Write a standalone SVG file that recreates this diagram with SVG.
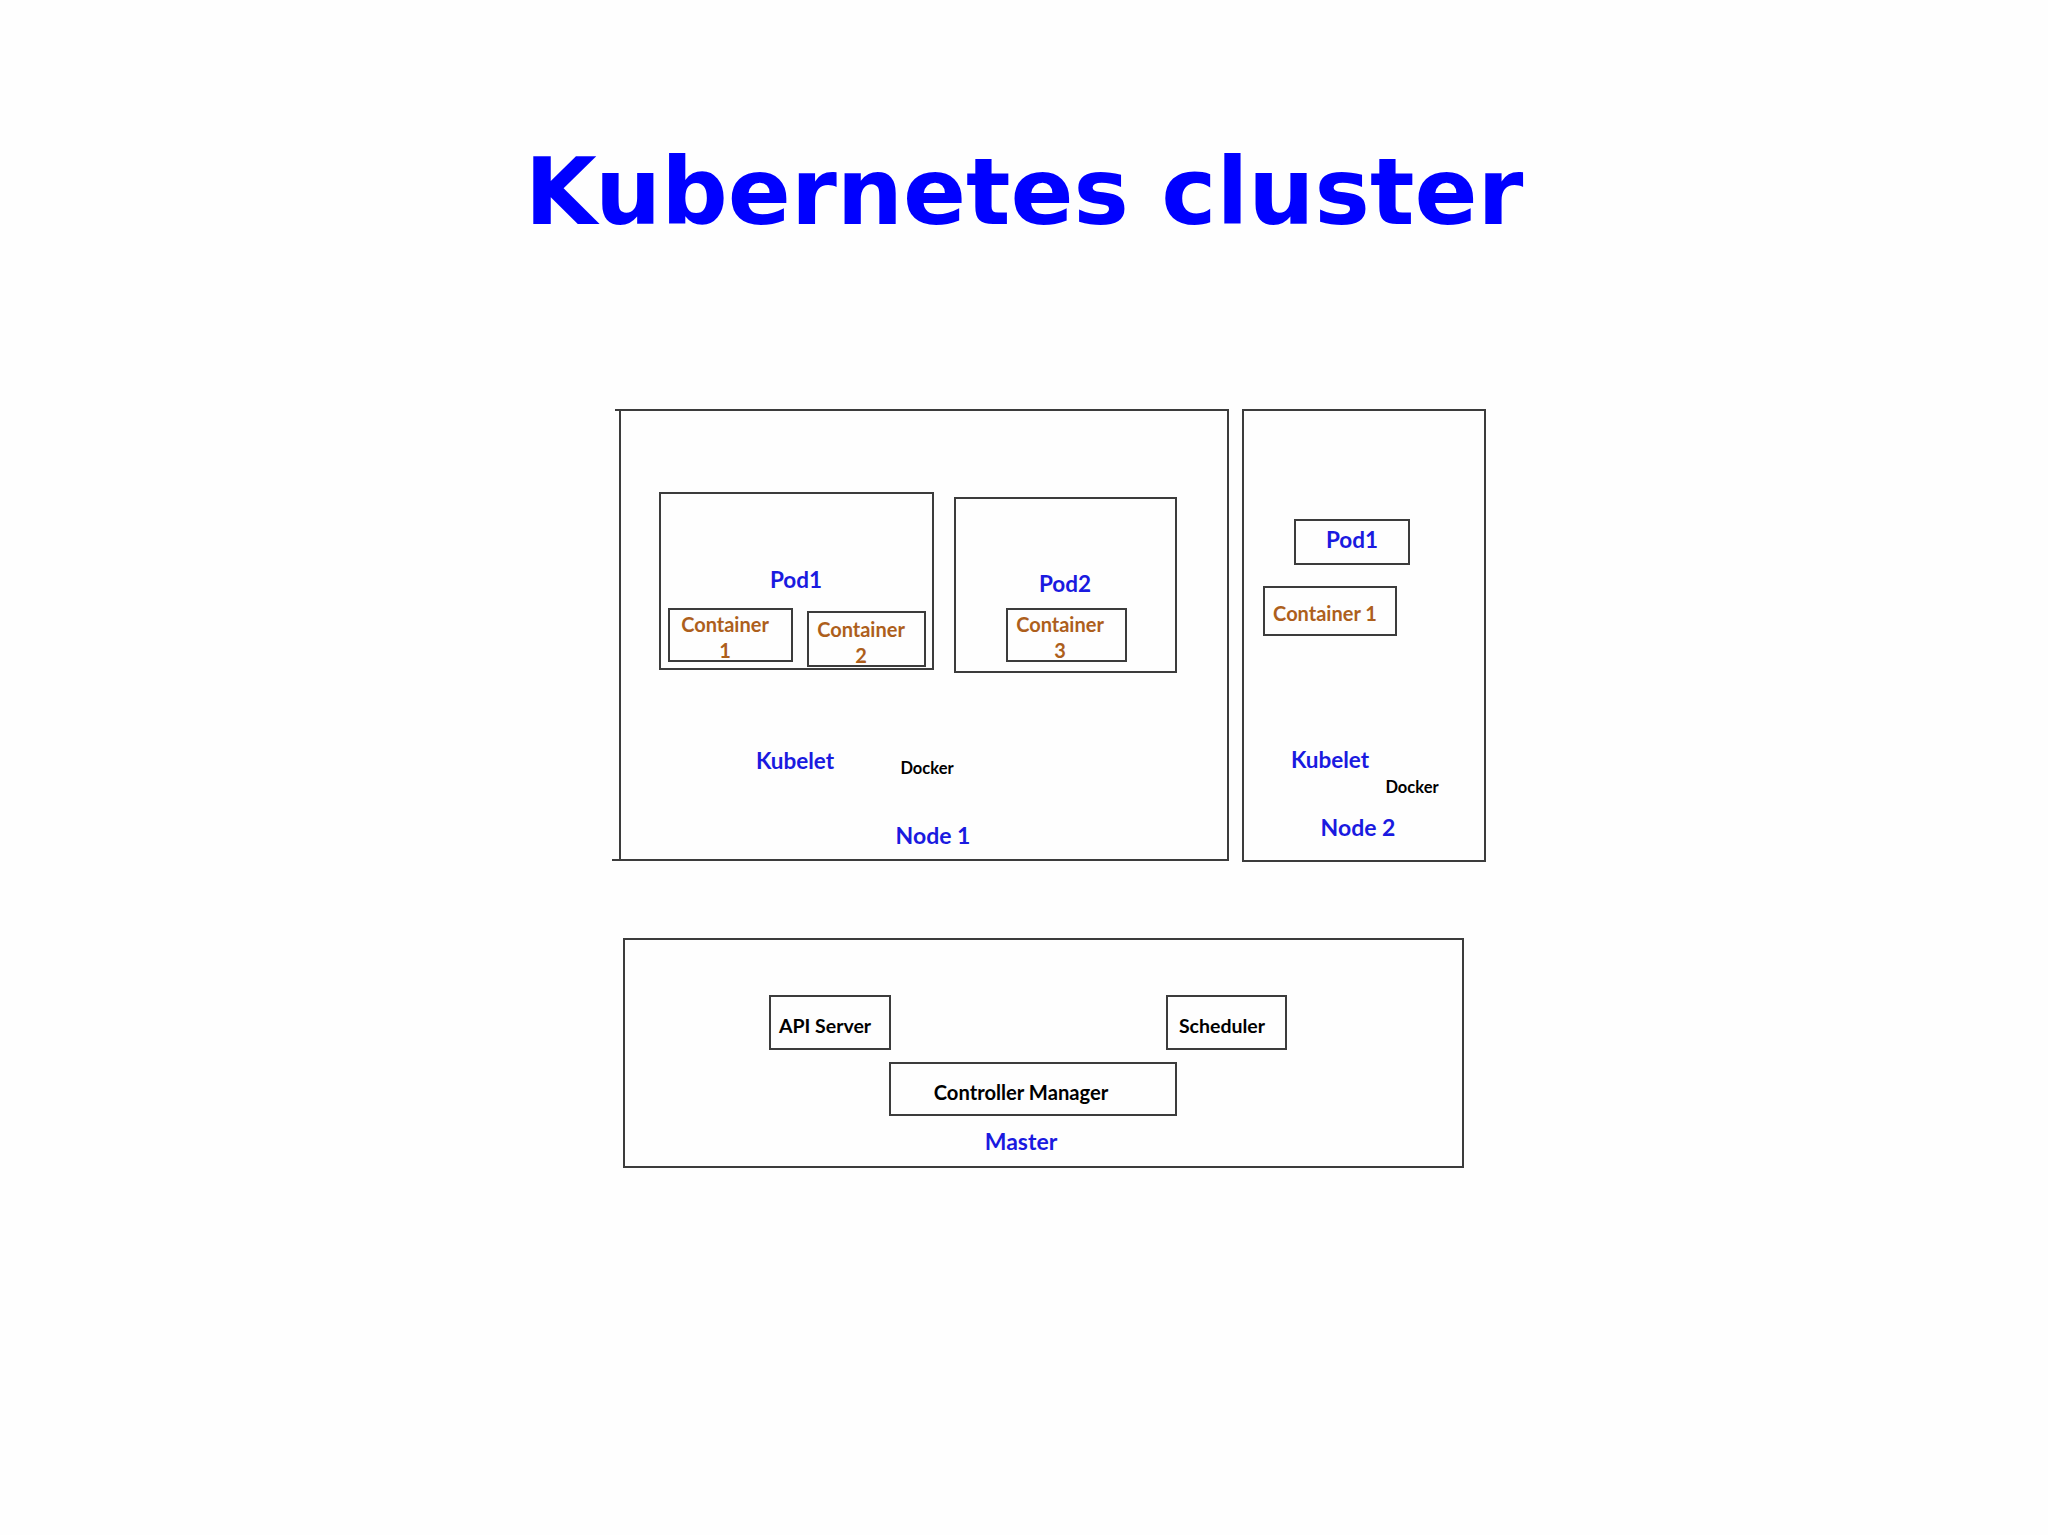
<svg xmlns="http://www.w3.org/2000/svg" width="2048" height="1535" viewBox="0 0 2048 1535">
<style>
.box{fill:none;stroke:#3c3c3c;stroke-width:2}
.edge{stroke:#3c3c3c;stroke-width:2;fill:none}
.t{font-family:Lato,"Open Sans","Liberation Sans",sans-serif;font-weight:bold;text-anchor:middle}
.blue{fill:#1a1ae0}
.cont{fill:#ad5f1c;font-size:20px}
.blk{fill:#000}
</style>
<rect width="2048" height="1535" fill="#fefefe"/>
<text x="1024" y="224" font-family="DejaVu Sans,sans-serif" font-weight="bold" font-size="93" fill="#0000ff" text-anchor="middle">Kubernetes cluster</text>

<g id="node1">
<path class="edge" d="M615 410 H1228 V860 H612 M620 410 V860"/>
<text class="t blue" x="933" y="844" font-size="23">Node 1</text>
<text class="t blue" x="795" y="769" font-size="22.5">Kubelet</text>
<text class="t blk" x="927" y="774" font-size="16.5">Docker</text>
</g>
<g id="n1-pod1">
<rect class="box" x="660" y="493" width="273" height="176"/>
<text class="t blue" x="796" y="588" font-size="22.5">Pod1</text>
</g>
<g id="n1-container1">
<rect class="box" x="669" y="609" width="123" height="52"/>
<text class="t cont" x="725" y="632">Container</text>
<text class="t cont" x="725" y="658">1</text>
</g>
<g id="n1-container2">
<rect class="box" x="808" y="612" width="117" height="54"/>
<text class="t cont" x="861" y="637">Container</text>
<text class="t cont" x="861" y="663">2</text>
</g>
<g id="n1-pod2">
<rect class="box" x="955" y="498" width="221" height="174"/>
<text class="t blue" x="1065" y="592" font-size="22.5">Pod2</text>
</g>
<g id="n1-container3">
<rect class="box" x="1007" y="609" width="119" height="52"/>
<text class="t cont" x="1060" y="632">Container</text>
<text class="t cont" x="1060" y="658">3</text>
</g>

<g id="node2">
<rect class="box" x="1243" y="410" width="242" height="451"/>
<text class="t blue" x="1358" y="836" font-size="23">Node 2</text>
<text class="t blue" x="1330" y="768" font-size="22.5">Kubelet</text>
<text class="t blk" x="1412" y="793" font-size="16.5">Docker</text>
</g>
<g id="n2-pod1">
<rect class="box" x="1295" y="520" width="114" height="44"/>
<text class="t blue" x="1352" y="548" font-size="22.5">Pod1</text>
</g>
<g id="n2-container1">
<rect class="box" x="1264" y="587" width="132" height="48"/>
<text class="t cont" x="1325" y="621">Container 1</text>
</g>

<g id="master">
<rect class="box" x="624" y="939" width="839" height="228"/>
<text class="t blue" x="1021" y="1150" font-size="23">Master</text>
</g>
<g id="api-server">
<rect class="box" x="770" y="996" width="120" height="53"/>
<text class="t blk" x="825" y="1033" font-size="19.5">API Server</text>
</g>
<g id="scheduler">
<rect class="box" x="1167" y="996" width="119" height="53"/>
<text class="t blk" x="1222" y="1033" font-size="19.5">Scheduler</text>
</g>
<g id="controller-manager">
<rect class="box" x="890" y="1063" width="286" height="52"/>
<text class="t blk" x="1021" y="1100" font-size="20.2">Controller Manager</text>
</g>
<g id="connectors"></g>
</svg>
